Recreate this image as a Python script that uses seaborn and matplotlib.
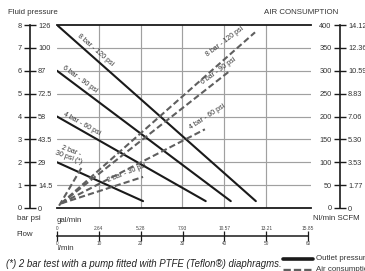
import matplotlib
matplotlib.use('Agg')
import matplotlib.pyplot as plt
import numpy as np
import pandas as pd
import seaborn as sns

# outlet pressure curves: flow (l/min) vs pressure (bar)
outlet_names = ['8 bar', '6 bar', '4 bar', '2 bar']
outlet_flow = [[0, 47.6], [0, 41.6], [0, 35.6], [0, 20.6]]
outlet_bar = [[8, 0.3], [6, 0.3], [4, 0.3], [2, 0.3]]

# air consumption curves: flow (l/min) vs air (Nl/min)
air_names = ['8 bar', '6 bar', '4 bar', '2 bar', '2 bar (*)']
air_flow = [[1, 47.4], [1, 41.0], [1, 35.4], [1, 20.6], [0.5, 6.0]]
air_nl = [[10, 384], [10, 297], [10, 172], [10, 68], [5, 90]]

# scales
bar_ticks = [0, 1, 2, 3, 4, 5, 6, 7, 8]
psi_labels = ['0', '14.5', '29', '43.5', '58', '72.5', '87', '100', '126']
nl_ticks = [0, 50, 100, 150, 200, 250, 300, 350, 400]
scfm_labels = ['0', '1.77', '3.53', '5.30', '7.06', '8.83', '10.59', '12.36', '14.12']
lmin_ticks = [0, 10, 20, 30, 40, 50, 60]
gal_labels = ['0', '2.64', '5.28', '7.93', '10.57', '13.21', '15.85']

sns.set_theme(style='white')
plt.rcParams['font.family'] = ['Liberation Sans', 'DejaVu Sans']

W, H = 365, 271
fig = plt.figure(figsize=(W / 100, H / 100), dpi=100)


def box(x0, y0, x1, y1):
    # pixel box -> figure fraction [left, bottom, width, height]
    return [x0 / W, 1 - y1 / H, (x1 - x0) / W, (y1 - y0) / H]


dark = '#1a1a1a'
gray = '#5f5f5f'

# main chart
ax = fig.add_axes(box(57, 25, 311, 208))
ax.set_xlim(0, 60.8)
ax.set_ylim(0, 8)
ax.set_xticks([10, 20, 30, 40, 50])
ax.set_yticks([1, 2, 3, 4, 5, 6, 7])
ax.grid(True, color='#a0a0a0', linewidth=0.85)
ax.tick_params(length=0, labelleft=False, labelbottom=False)
for s in ['left', 'right']:
    ax.spines[s].set_visible(False)
for s in ['top', 'bottom']:
    ax.spines[s].set_color(dark)
    ax.spines[s].set_linewidth(1.3)
ax.patch.set_alpha(0)

ax_air = ax.twinx()
ax_air.set_ylim(0, 400)
ax_air.axis('off')

for name, fl, br in zip(outlet_names, outlet_flow, outlet_bar):
    df = pd.DataFrame({'flow': fl, 'bar': br})
    sns.lineplot(data=df, x='flow', y='bar', ax=ax, color=dark,
                 linewidth=1.5, sort=False, legend=False)
for name, fl, nl in zip(air_names, air_flow, air_nl):
    df = pd.DataFrame({'flow': fl, 'nl': nl})
    sns.lineplot(data=df, x='flow', y='nl', ax=ax_air, color=gray,
                 linewidth=1.5, linestyle=(0, (3, 1.5)), sort=False, legend=False)
ax.set_xlabel('')
ax.set_ylabel('')

lab = dict(fontsize=5, color='#333333', ha='center', va='center',
           rotation_mode='anchor')
ax.text(9.1, 6.9, '8 bar - 120 psi', rotation=-41, **lab)
ax.text(5.5, 5.64, '6 bar - 90 psi', rotation=-36, **lab)
ax.text(6.0, 3.67, '4 bar - 60 psi', rotation=-29, **lab)
ax.text(3.1, 2.36, '2 bar -\n30 psi (*)', rotation=-20, linespacing=0.9, **lab)
ax.text(16.7, 1.53, '2 bar - 30 psi', rotation=22, **lab)
ax.text(36.1, 3.98, '4 bar - 60 psi', rotation=33, **lab)
ax.text(38.7, 5.99, '6 bar - 90 psi', rotation=36, **lab)
ax.text(40.2, 7.26, '8 bar - 120 psi', rotation=37, **lab)


def scale_axis(x, left_ticks, lim, left_labels, right_labels):
    a = fig.add_axes(box(x, 25, x + 0.3, 208))
    a.set_ylim(*lim)
    a.set_xticks([])
    a.set_yticks(left_ticks)
    a.set_yticklabels(left_labels)
    for s in ['top', 'bottom', 'right']:
        a.spines[s].set_visible(False)
    a.spines['left'].set_color(dark)
    a.spines['left'].set_linewidth(1.2)
    a.tick_params(axis='y', direction='inout', length=9, width=1.0, color=dark,
                  labelsize=5.3, labelcolor='#333333', pad=1.5, left=True)
    a.patch.set_alpha(0)
    b = a.twinx()
    b.set_ylim(*lim)
    b.set_yticks(left_ticks)
    b.set_yticklabels(right_labels)
    for s in ['top', 'bottom', 'left', 'right']:
        b.spines[s].set_visible(False)
    b.tick_params(axis='y', length=0, labelsize=5.3, labelcolor='#333333', pad=5.5)
    return a


scale_axis(30, bar_ticks, (0, 8), [str(t) for t in bar_ticks], psi_labels)
scale_axis(340, nl_ticks, (0, 400), [str(t) for t in nl_ticks], scfm_labels)

# flow axis
fa = fig.add_axes(box(57, 235.5, 308, 235.8))
fa.set_xlim(0, 60)
fa.set_yticks([])
fa.set_xticks(lmin_ticks)
fa.set_xticklabels([str(t) for t in lmin_ticks])
for s in ['top', 'left', 'right']:
    fa.spines[s].set_visible(False)
fa.spines['bottom'].set_color(dark)
fa.spines['bottom'].set_linewidth(1.1)
fa.tick_params(axis='x', direction='inout', length=7, width=0.9, color=dark,
               labelsize=3.4, labelcolor='#444444', pad=0.5)
fa.patch.set_alpha(0)
fb = fa.twiny()
fb.set_xlim(0, 60)
fb.set_xticks(lmin_ticks)
fb.set_xticklabels(gal_labels)
for s in ['top', 'bottom', 'left', 'right']:
    fb.spines[s].set_visible(False)
fb.tick_params(axis='x', length=0, labelsize=3.4, labelcolor='#444444', pad=3.5)

# texts
t = dict(fontsize=5.7, color='#333333', va='center')
fig.text(8 / W, 1 - 12 / H, 'Fluid pressure', **t)
fig.text(264 / W, 1 - 12 / H, 'AIR CONSUMPTION', **t)
fig.text(17 / W, 1 - 219 / H, 'bar psi', **t)
fig.text(57 / W, 1 - 220 / H, 'gal/min', **t)
fig.text(313 / W, 1 - 219 / H, 'Nl/min SCFM', **t)
fig.text(16 / W, 1 - 235 / H, 'Flow', **t)
fig.text(57 / W, 1 - 248.5 / H, 'l/min', **t)
fig.text(6 / W, 1 - 264 / H,
         '(*) 2 bar test with a pump fitted with PTFE (Teflon®) diaphragms.',
         fontsize=6.9, style='italic', color='#222222', va='center')

# legend (cut at the right edge as in the original)
fig.add_artist(plt.Line2D([283 / W, 313 / W], [1 - 259 / H, 1 - 259 / H],
                          color=dark, linewidth=2.6))
fig.add_artist(plt.Line2D([283 / W, 313 / W], [1 - 269.5 / H, 1 - 269.5 / H],
                          color=gray, linewidth=2.4, linestyle=(0, (2.2, 0.9))))
fig.text(316 / W, 1 - 259 / H, 'Outlet pressure', **t)
fig.text(316 / W, 1 - 269.5 / H, 'Air consumption', **t)

fig.savefig('out.png', dpi=100)
